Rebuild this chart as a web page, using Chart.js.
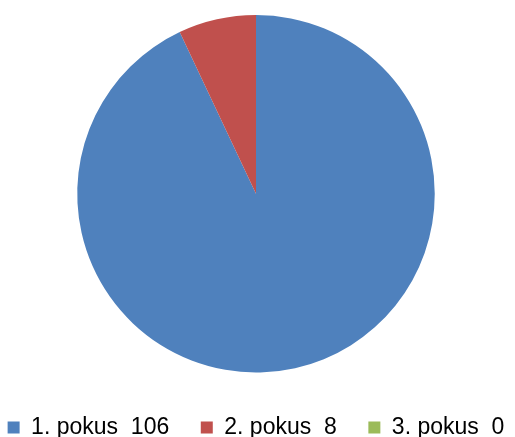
<!DOCTYPE html>
<html lang="en">
<head>
    <meta charset="UTF-8">
    <title>Pokusy</title>
    <script src="https://cdn.jsdelivr.net/npm/chart.js"></script>
    <style>
        html, body { margin: 0; padding: 0; overflow: hidden; background: #fff; }
        #wrap { width: 515px; height: 449px; }
    </style>
</head>
<body>
    <div id="wrap"><canvas id="pieChart"></canvas></div>

    <script>
        const labels = ['1. pokus  106', '2. pokus  8', '3. pokus  0'];
        const values = [106, 8, 0];
        const colors = ['#4F81BD', '#C0504D', '#9BBB59'];

        const ctx = document.getElementById('pieChart').getContext('2d');
        new Chart(ctx, {
            type: 'pie',
            data: {
                labels: labels,
                datasets: [{
                    data: values,
                    backgroundColor: colors,
                    borderWidth: 0
                }]
            },
            options: {
                responsive: true,
                maintainAspectRatio: false,
                animation: false,
                layout: {
                    padding: { top: 15, left: 0, right: 3, bottom: 0 }
                },
                plugins: {
                    tooltip: { enabled: false },
                    legend: {
                        position: 'bottom',
                        // empty title only used to push the legend row down
                        title: {
                            display: true,
                            text: ' ',
                            font: { size: 1, lineHeight: 1 },
                            padding: { top: 36.5, bottom: 0 }
                        },
                        labels: {
                            boxWidth: 12,
                            boxHeight: 12,
                            padding: 6,
                            color: '#000',
                            font: { family: 'Liberation Sans', size: 23 },
                            // trailing spaces give the wider gap between entries
                            generateLabels: function (chart) {
                                const items = Chart.overrides.pie.plugins.legend.labels.generateLabels(chart);
                                items.forEach(function (item, i) {
                                    if (i < items.length - 1) {
                                        item.text = item.text + '    ';
                                    }
                                });
                                return items;
                            }
                        }
                    }
                }
            }
        });
    </script>
</body>
</html>
